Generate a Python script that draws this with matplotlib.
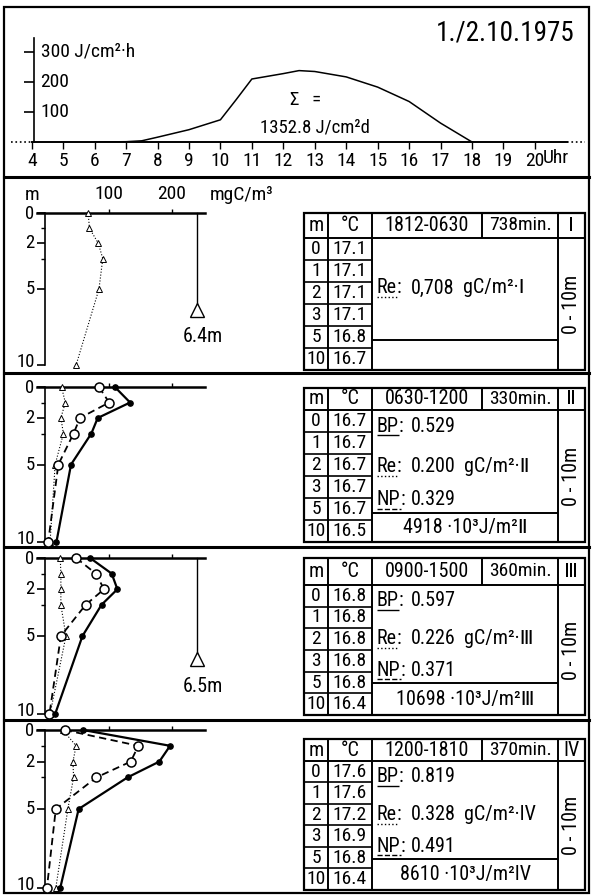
import numpy as np
import matplotlib
matplotlib.use('Agg')
import matplotlib.pyplot as plt
from matplotlib import font_manager
from matplotlib.patches import Rectangle

# ---- data ----
hours = [6, 7, 7.5, 8, 9, 10, 10.5, 11, 12, 12.5, 13, 14, 15, 16, 17, 18]
radiation = [0, 1, 4, 16, 41, 74, 141, 210, 228, 238, 235, 217, 183, 135, 63, 0]
hourTicks = list(range(4, 21))
radTicks = [100, 200, 300]
radLabels = ['100', '200', '300 J/cm²·h']
dateStr = '1./2.10.1975'
radSum = '1352.8 J/cm²d'

depths = [0, 1, 2, 3, 5, 10]
depthTicks = [0, 2, 5, 10]
bpVals = [None, [110, 134, 83, 73, 41, 18], [71, 105, 114, 89, 59, 16], [60, 197, 180, 130, 53, 24]]
npVals = [None, [85, 101, 55, 45, 21, 5], [49, 80, 93, 64, 25, 7], [31, 147, 135, 81, 17, 3]]
reVals = [[68, 70, 84, 91, 85, 49], [26, 32, 25, 29, 16, 8], [24, 25, 25, 25, 33, 8], [28, 49, 44, 45, 36, 17]]
secchi = [6.4, None, 6.5, None]
secchiX = 240

tableDepths = ['0', '1', '2', '3', '5', '10']
temps = [['17.1', '17.1', '17.1', '17.1', '16.8', '16.7'],
         ['16.7', '16.7', '16.7', '16.7', '16.7', '16.5'],
         ['16.8', '16.8', '16.8', '16.8', '16.8', '16.4'],
         ['17.6', '17.6', '17.2', '16.9', '16.8', '16.4']]
periods = ['1812-0630', '0630-1200', '0900-1500', '1200-1810']
durations = ['738min.', '330min.', '360min.', '370min.']
romans = ['Ⅰ', 'Ⅱ', 'Ⅲ', 'IV']
bpText = [None, '0.529', '0.597', '0.819']
reText = ['0,708', '0.200', '0.226', '0.328']
npText = [None, '0.329', '0.371', '0.491']
energy = [None, '4918', '10698', '8610']

# ---- fonts: prefer a narrow face like the stencil lettering ----
fonts = font_manager.fontManager.ttflist
names = {f.name for f in fonts}
FS = 0.88
if 'Liberation Sans Narrow' in names:
    plt.rcParams['font.family'] = ['Liberation Sans Narrow', 'DejaVu Sans']
    FS = 1.0
elif 'Roboto Condensed' in names:
    plt.rcParams['font.family'] = ['Roboto Condensed', 'DejaVu Sans']
    FS = 1.0
elif any(f.name == 'DejaVu Sans' and f.stretch == 'condensed' for f in fonts):
    plt.rcParams['font.family'] = ['DejaVu Sans']
    plt.rcParams['font.stretch'] = 'condensed'
    FS = 0.95
else:
    plt.rcParams['font.family'] = ['DejaVu Sans']

W, H = 592, 896
fig = plt.figure(figsize=(W / 100, H / 100), dpi=100)
fig.set_facecolor('white')


def box(l, t, r, b):
    return [l / W, 1 - b / H, (r - l) / W, (b - t) / H]


ov = fig.add_axes([0, 0, 1, 1])
ov.set_xlim(0, W)
ov.set_ylim(H, 0)
ov.axis('off')
renderer = fig.canvas.get_renderer()


def textWidth(s, size):
    t = ov.text(0, 0, s, fontsize=size)
    w = t.get_window_extent(renderer).width
    t.remove()
    return w


# frame and separators
ov.add_patch(Rectangle((4, 7), 585, 886, fill=False, lw=1.6, ec='k'))
for y in [177, 373, 547, 720]:
    ov.plot([4, 589], [y, y], color='k', lw=2.2)

# ---- top panel: global radiation ----
pxH = 31.45
x4 = 31.7
axt = fig.add_axes(box(x4, 30, x4 + 16 * pxH, 142))
axt.set_xlim(4, 20)
axt.set_ylim(0, 112 / 0.3)
axt.patch.set_visible(False)
for s in ['top', 'right', 'bottom']:
    axt.spines[s].set_visible(False)
axt.spines['left'].set_position(('data', 4.07))
axt.spines['left'].set_bounds(0, 345)
axt.spines['left'].set_linewidth(1.2)
axt.plot(hours, radiation, color='k', lw=1.1)
axt.plot([4, 21.02], [0, 0], color='k', lw=1.4, clip_on=False)
axt.plot([3.34, 4], [0, 0], color='k', lw=1.2, ls=':', clip_on=False)
axt.plot([21.02, 21.6], [0, 0], color='k', lw=1.2, ls=':', clip_on=False)
axt.set_xticks(hourTicks)
axt.set_xticklabels([str(h) for h in hourTicks])
axt.tick_params(axis='x', direction='out', length=5, width=1, pad=2, labelsize=14 * FS)
axt.set_yticks(radTicks)
axt.tick_params(axis='y', direction='out', length=7, width=1.2, labelleft=False)
for v, lab in zip(radTicks, radLabels):
    axt.text(4.28, v, lab, va='center', ha='left', fontsize=14 * FS)
ov.text(543, 158, 'Uhr', va='center', ha='left', fontsize=14 * FS)
ov.text(505, 33, dateStr, ha='center', va='center', fontsize=19.5 * FS)
ov.text(306, 100, 'Σ   =', ha='center', va='center', fontsize=13.5 * FS)
ov.text(315, 128, radSum, ha='center', va='center', fontsize=13.5 * FS)

# ---- profile panels ----
profBox = [(213, 365), (387, 542), (558, 714), (730, 888)]
for i in range(4):
    t, b = profBox[i]
    ax = fig.add_axes(box(37, t, 205, b))
    ax.set_xlim((37 - 45) / 0.635, (205 - 45) / 0.635)
    ax.set_ylim(10, 0)
    ax.patch.set_visible(False)
    for s in ['right', 'bottom']:
        ax.spines[s].set_visible(False)
    ax.spines['left'].set_position(('data', 0))
    ax.spines['left'].set_linewidth(1.2)
    ax.spines['top'].set_linewidth(1.8)
    ax.xaxis.set_ticks_position('top')
    ax.set_xticks([100, 200])
    ax.tick_params(axis='x', direction='out', length=3, width=1, pad=4,
                   labeltop=(i == 0), labelsize=14 * FS)
    ax.set_yticks(depthTicks)
    ax.set_yticks([1, 3], minor=True)
    ax.tick_params(axis='y', which='major', direction='out', length=6, width=1.2,
                   labelleft=False)
    ax.tick_params(axis='y', which='minor', direction='out', length=3, width=1)
    # depth labels: the deepest one sits a little above its tick, as in the drawing
    for d in depthTicks:
        dy = 2.5 if d == 10 else (-1 if d == 0 else 0)
        ax.annotate(str(d), xy=(0, d), xycoords='data', xytext=(-7.5, dy),
                    textcoords='offset points', ha='right', va='center',
                    fontsize=13.5 * FS, annotation_clip=False)

    ax.plot(reVals[i], depths, color='k', lw=0.8, ls=':', marker='^', ms=4.5,
            mfc='white', mec='k', mew=0.7, clip_on=False, zorder=3)
    if npVals[i] is not None:
        ax.plot(npVals[i], depths, color='k', lw=1.3, ls=(0, (4, 2.5)), marker='o', ms=6.5,
                mfc='white', mec='k', mew=1.1, clip_on=False, zorder=4)
    if bpVals[i] is not None:
        ax.plot(bpVals[i], depths, color='k', lw=1.6, ls='-', marker='o', ms=3.8,
                mfc='k', mec='k', clip_on=False, zorder=5)
    if secchi[i] is not None:
        ax.plot([secchiX, secchiX], [0, secchi[i]], color='k', lw=1.0, clip_on=False)
        ax.plot([secchiX], [secchi[i]], marker='^', ms=10, mfc='white', mec='k', mew=1.0,
                clip_on=False)
        ax.text(secchiX + 8, secchi[i] + 1.75, '%.1fm' % secchi[i], ha='center', va='center',
                fontsize=14.5 * FS)

ov.text(32, 195, 'm', ha='center', va='center', fontsize=14 * FS)
ov.text(210, 195, 'mgC/m³', ha='left', va='center', fontsize=14 * FS)

# ---- tables ----
tableBox = [(213, 238, 340, 370), (388, 410, 513, 542), (558, 585, 683, 715), (739, 761, 859, 890)]
L, c1, c2, c3, R, hs = 304, 328, 372, 558, 585, 482


def line(xs, ys, lw=1.4, ls='-'):
    ov.plot(xs, ys, color='k', lw=lw, ls=ls, solid_capstyle='butt')


def labelRow(y, lab, style, rest, unit=None):
    size = 14.5 * FS
    ov.text(377, y, lab, ha='left', va='center', fontsize=size)
    w = textWidth(lab, size)
    line([377, 377 + w], [y + 9, y + 9], lw=1.0, ls=style)
    ov.text(377 + w, y, ':', ha='left', va='center', fontsize=size)
    ov.text(411, y, rest, ha='left', va='center', fontsize=size)
    if unit:
        ov.text(411 + textWidth(rest, size) + 8, y, unit, ha='left', va='center', fontsize=size)


for i in range(4):
    top, hdr, inner, bot = tableBox[i]
    ov.add_patch(Rectangle((L, top), R - L, bot - top, fill=False, lw=1.6, ec='k'))
    line([L, R], [hdr, hdr])
    for x in (c1, c2, c3):
        line([x, x], [top, bot])
    line([hs, hs], [top, hdr])
    line([c2, c3], [inner, inner])
    rows = np.linspace(hdr, bot, 7)
    for y in rows[1:-1]:
        line([L, c2], [y, y], lw=1.2)

    hy = (top + hdr) / 2
    ov.text((L + c1) / 2, hy, 'm', ha='center', va='center', fontsize=14.5 * FS)
    ov.text((c1 + c2) / 2, hy, '°C', ha='center', va='center', fontsize=14.5 * FS)
    ov.text((c2 + hs) / 2, hy, periods[i], ha='center', va='center', fontsize=14.5 * FS)
    ov.text((hs + c3) / 2, hy, durations[i], ha='center', va='center', fontsize=14 * FS)
    ov.text((c3 + R) / 2, hy, romans[i], ha='center', va='center', fontsize=14.5 * FS)

    for k in range(6):
        ry = (rows[k] + rows[k + 1]) / 2
        ov.text((L + c1) / 2, ry, tableDepths[k], ha='center', va='center', fontsize=14 * FS)
        ov.text((c1 + c2) / 2, ry, temps[i][k], ha='center', va='center', fontsize=14 * FS)

    ov.text((c3 + R) / 2, (hdr + bot) / 2, '0 - 10m', rotation=90, ha='center', va='center',
            fontsize=14.5 * FS)

    span = inner - hdr
    unit = 'gC/m²·' + romans[i]
    if bpText[i] is None:
        labelRow(hdr + 0.49 * span, 'Re', ':', reText[i], unit)
    else:
        labelRow(hdr + 0.16 * span, 'BP', '-', bpText[i])
        labelRow(hdr + 0.55 * span, 'Re', ':', reText[i], unit)
        labelRow(hdr + 0.87 * span, 'NP', '--', npText[i])
        ov.text((c2 + c3) / 2, (inner + bot) / 2, energy[i] + ' ·10³J/m²' + romans[i],
                ha='center', va='center', fontsize=14.5 * FS)

plt.savefig('out.png', dpi=100, facecolor=fig.get_facecolor())
